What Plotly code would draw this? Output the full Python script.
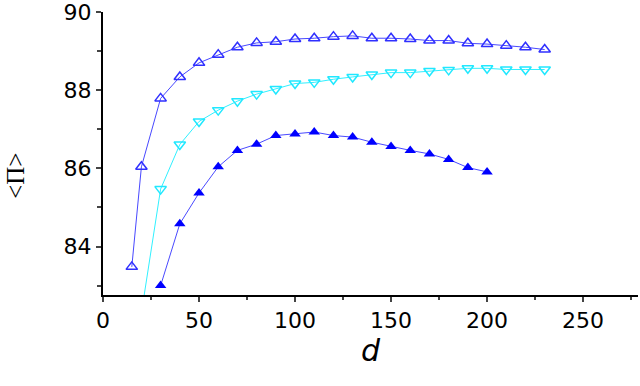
import plotly.graph_objects as go

# values
d_top = [15, 20, 30, 40, 50, 60, 70, 80, 90, 100, 110, 120, 130, 140, 150, 160, 170, 180, 190, 200, 210, 220, 230]
pi_top = [83.48, 86.04, 87.79, 88.34, 88.70, 88.91, 89.10, 89.21, 89.24, 89.31, 89.33, 89.37, 89.39, 89.33, 89.33, 89.31, 89.27, 89.27, 89.20, 89.18, 89.14, 89.10, 89.04]

d_mid = [20, 30, 40, 50, 60, 70, 80, 90, 100, 110, 120, 130, 140, 150, 160, 170, 180, 190, 200, 210, 220, 230]
pi_mid = [82.3, 85.47, 86.61, 87.20, 87.49, 87.72, 87.90, 88.03, 88.17, 88.20, 88.28, 88.34, 88.40, 88.45, 88.45, 88.49, 88.52, 88.56, 88.56, 88.53, 88.53, 88.53]

d_low = [30, 40, 50, 60, 70, 80, 90, 100, 110, 120, 130, 140, 150, 160, 170, 180, 190, 200]
pi_low = [83.0, 84.58, 85.37, 86.04, 86.46, 86.62, 86.84, 86.88, 86.93, 86.84, 86.80, 86.67, 86.56, 86.46, 86.37, 86.23, 86.02, 85.91]

x_ticks = [0, 50, 100, 150, 200, 250]
y_ticks = [84, 86, 88, 90]

fig = go.Figure()
fig.add_trace(go.Scatter(x=d_top, y=pi_top, mode='lines+markers',
                         line=dict(color='#4848ff', width=1),
                         marker=dict(symbol='triangle-up-open', size=10, color='#3030ff', line=dict(width=1.5))))
fig.add_trace(go.Scatter(x=d_mid, y=pi_mid, mode='lines+markers',
                         line=dict(color='#30f0ff', width=1),
                         marker=dict(symbol='triangle-down-open', size=10, color='#20e8ff', line=dict(width=1.5))))
fig.add_trace(go.Scatter(x=d_low, y=pi_low, mode='lines+markers',
                         line=dict(color='#4a4aff', width=1),
                         marker=dict(symbol='triangle-up', size=10, color='#0000ff')))

fig.update_layout(
    width=640, height=386,
    margin=dict(l=103, r=2, t=12, b=91),
    plot_bgcolor='white', paper_bgcolor='white',
    showlegend=False,
    font=dict(family='DejaVu Sans', color='black', size=22),
)
fig.update_xaxes(range=[0, 278.6], tickvals=x_ticks, ticks='outside', ticklen=5, tickwidth=2,
                 showline=True, linewidth=2, linecolor='black', showgrid=False, zeroline=False,
                 automargin=False, ticklabeloverflow='allow',
                 minor=dict(tickvals=[25, 75, 125, 175, 225, 275], ticks='outside', ticklen=3, tickwidth=2),
                 title=dict(text='<i>d</i>', font=dict(size=30), standoff=6))
fig.update_yaxes(range=[82.76, 90.001], tickvals=y_ticks, ticks='outside', ticklen=5, tickwidth=2,
                 showline=True, linewidth=2, linecolor='black', showgrid=False, zeroline=False,
                 automargin=False, ticklabeloverflow='allow',
                 minor=dict(tickvals=[83, 85, 87, 89], ticks='outside', ticklen=4, tickwidth=2))

# y title sits a bit below the middle of the axis in the original
fig.add_annotation(text='&lt;Π&gt;', xref='paper', yref='paper', x=-0.165, y=0.42,
                   textangle=-90, showarrow=False, xanchor='center', yanchor='middle',
                   font=dict(family='Liberation Serif', size=25))

fig.write_html("out.html", config={'displayModeBar': False},
               post_script="document.body.style.margin='0';")
